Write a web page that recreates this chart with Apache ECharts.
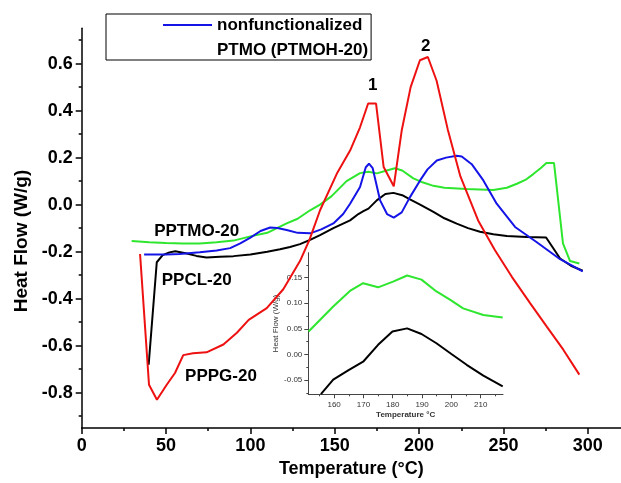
<!DOCTYPE html>
<html><head><meta charset="utf-8">
<script src="https://cdn.jsdelivr.net/npm/echarts@6/dist/echarts.min.js"></script>
<style>html,body{margin:0;padding:0;background:#fff}#c{width:621px;height:483px}</style>
</head><body><div id="c"></div>
<script>
// ---- data (temperature °C, heat flow W/g) ----
const pppgT = [34.6,39.9,44.6,50.4,55.3,60.2,66,74,84,92,99,109.7,119.5,129.4,135,141.3,151.2,159.1,165,169.8,174.5,179,185,189.7,195,200.5,205.2,210.4,217,224.5,235,245,255,265.8,275.7,285.5,295];
const pppgV = [-0.21,-0.766,-0.83,-0.766,-0.716,-0.64,-0.632,-0.628,-0.595,-0.545,-0.49,-0.44,-0.36,-0.24,-0.15,-0.024,0.131,0.23,0.329,0.43,0.43,0.16,0.078,0.315,0.5,0.614,0.628,0.527,0.32,0.12,-0.067,-0.194,-0.307,-0.419,-0.519,-0.617,-0.723];

const nonfT = [37,50,58,70,80,88,94,100,106,111.7,116,121.5,128,135.4,142,149.2,155,159.1,165,168.4,170.3,172.5,176.9,181,185,189.7,194.6,200.6,205,210.5,216,222.3,225.3,231.2,238.1,246,256.9,269.8,283.6,297];
const nonfV = [-0.212,-0.212,-0.21,-0.203,-0.195,-0.185,-0.165,-0.14,-0.112,-0.097,-0.099,-0.108,-0.12,-0.122,-0.105,-0.08,-0.04,0.004,0.075,0.159,0.174,0.155,0.018,-0.04,-0.055,-0.033,0.032,0.103,0.15,0.188,0.2,0.208,0.205,0.172,0.103,0.004,-0.095,-0.16,-0.232,-0.284];

const pptmoT = [29.6,40,50,60,70,80,90,100,110,121.5,128,135.4,141.3,148,157,165,170,175,180.8,185.7,190,196.6,202,208.5,215,228,244,252,258,263,267.7,272,275.5,280,285.3,289.5,295];
const pptmoV = [-0.155,-0.16,-0.163,-0.165,-0.165,-0.16,-0.153,-0.135,-0.12,-0.08,-0.06,-0.024,0.0,0.035,0.1,0.134,0.14,0.133,0.145,0.155,0.145,0.112,0.095,0.08,0.072,0.066,0.062,0.072,0.089,0.105,0.13,0.155,0.177,0.177,-0.165,-0.24,-0.25];

const ppclT = [39.7,44.5,48,52,55.5,62.3,68,74,82,90,100,110,117.6,123.5,129.4,135.4,141.3,149.2,159.1,164,167,170,174.9,180,184.8,190,194.6,200.6,208.5,215,222.3,229,236.1,244,252,263.8,275.3,283.6,290,297];
const ppclV = [-0.681,-0.245,-0.215,-0.203,-0.198,-0.208,-0.218,-0.225,-0.222,-0.219,-0.212,-0.2,-0.19,-0.18,-0.168,-0.15,-0.13,-0.1,-0.067,-0.04,-0.028,-0.017,0.018,0.045,0.05,0.04,0.022,0.0,-0.031,-0.058,-0.081,-0.1,-0.115,-0.126,-0.133,-0.138,-0.14,-0.229,-0.26,-0.281];

// inset data
const insetGreenT = [151.3,159.7,165.4,169.9,175,180.1,184.9,189.8,194.9,199.5,204,210.9,217.5];
const insetGreenV = [0.045,0.0935,0.124,0.139,0.131,0.142,0.154,0.146,0.123,0.107,0.09,0.077,0.072];
const insetBlackT = [155.5,159.7,164.8,169.9,175,179.9,184.9,189.8,194.9,200,205.2,210.9,217.5];
const insetBlackV = [-0.077,-0.049,-0.031,-0.014,0.019,0.045,0.051,0.04,0.022,0.001,-0.02,-0.041,-0.062];

// tick labels
const xTicks = [0,50,100,150,200,250,300];
const xMinor = [25,75,125,175,225,275];
const yTicks = [-0.8,-0.6,-0.4,-0.2,0.0,0.2,0.4,0.6];
const yMinor = [-0.9,-0.7,-0.5,-0.3,-0.1,0.1,0.3,0.5,0.7];
const ixTicks = [160,170,180,190,200,210];
const ixMinor = [155,165,175,185,195,205,215];
const iyTicks = [-0.05,0.0,0.05,0.10,0.15];
const iyMinor = [-0.075,-0.025,0.025,0.075,0.125,0.175];

const zip = (a,b) => a.map((v,i)=>[v,b[i]]);
const FF = "'Liberation Sans', Arial, sans-serif";
const RED='#ee1111', BLUE='#1414e6', GREEN='#2ee62e', BLACK='#000000';

function mainX(extra){return Object.assign({type:'value',gridIndex:0,position:'bottom',min:0,max:319.7,splitLine:{show:false},
  axisLine:{show:true,onZero:false,lineStyle:{color:'#000',width:1.5}}},extra);}
function mainY(extra){return Object.assign({type:'value',gridIndex:0,position:'left',min:-0.95,max:0.75,splitLine:{show:false},
  axisLine:{show:true,onZero:false,lineStyle:{color:'#000',width:1.5}}},extra);}
function insX(extra){return Object.assign({type:'value',gridIndex:1,position:'bottom',min:151.2,max:217.6,splitLine:{show:false},
  axisLine:{show:true,onZero:false,lineStyle:{color:'#444',width:1}}},extra);}
function insY(extra){return Object.assign({type:'value',gridIndex:1,position:'left',min:-0.0775,max:0.1985,splitLine:{show:false},
  axisLine:{show:true,onZero:false,lineStyle:{color:'#444',width:1}}},extra);}
const hiddenLine = {show:false,onZero:false};

const chart = echarts.init(document.getElementById('c'),null,{renderer:'canvas'});
chart.setOption({
  animation:false,
  backgroundColor:'#fff',
  grid:[
    {left:81.7,top:28.3,right:0,bottom:54,containLabel:false},
    {left:308.3,top:252.7,width:194.7,height:141.6,containLabel:false}
  ],
  legend:{
    left:106, top:14, orient:'vertical', padding:[1,3,0,57], itemGap:5,
    itemWidth:49, itemHeight:14, borderColor:'#000', borderWidth:1, selectedMode:false,
    textStyle:{fontSize:17,fontWeight:'bold',fontFamily:FF,color:'#000',lineHeight:20},
    data:[{name:'nonfunctionalized',icon:'path://M0,0L48,0L48,2L0,2Z',itemStyle:{color:BLUE}},
          {name:'PTMO (PTMOH-20)',icon:'none'}]
  },
  xAxis:[
    mainX({name:'Temperature (°C)',nameLocation:'middle',nameGap:32,
      nameTextStyle:{fontSize:18,fontWeight:'bold',fontFamily:FF,color:'#000'},
      axisTick:{show:true,length:6,customValues:xTicks,lineStyle:{color:'#000',width:1.5}},
      axisLabel:{show:true,customValues:xTicks,margin:9,fontSize:18,fontWeight:'bold',fontFamily:FF,color:'#000'}}),
    mainX({axisLine:hiddenLine,axisLabel:{show:false},
      axisTick:{show:true,length:3,customValues:xMinor,lineStyle:{color:'#000',width:1.5}}}),
    insX({axisTick:{show:true,length:4,customValues:ixTicks,lineStyle:{color:'#444'}},
      axisLabel:{show:true,customValues:ixTicks,margin:6,fontSize:8,fontFamily:FF,color:'#333'},
      name:'Temperature °C',nameLocation:'middle',nameGap:16,
      nameTextStyle:{fontSize:8,fontWeight:'bold',fontFamily:FF,color:'#333'}}),
    insX({axisLine:hiddenLine,axisLabel:{show:false},
      axisTick:{show:true,length:2,customValues:ixMinor,lineStyle:{color:'#444'}}})
  ],
  yAxis:[
    mainY({axisTick:{show:true,length:6,customValues:yTicks,lineStyle:{color:'#000',width:1.5}},
      axisLabel:{show:true,customValues:yTicks,margin:9,fontSize:18,fontWeight:'bold',fontFamily:FF,color:'#000',
        formatter:v=>v.toFixed(1)}}),
    mainY({axisLine:hiddenLine,axisLabel:{show:false},
      axisTick:{show:true,length:3,customValues:yMinor,lineStyle:{color:'#000',width:1.5}}}),
    insY({axisTick:{show:true,length:4,customValues:iyTicks,lineStyle:{color:'#444'}},
      axisLabel:{show:true,customValues:iyTicks,margin:6,fontSize:8,fontFamily:FF,color:'#333',
        formatter:v=>v.toFixed(2)},
      name:'Heat Flow (W/g)',nameLocation:'middle',nameGap:26,
      nameTextStyle:{fontSize:8,fontFamily:FF,color:'#333'}}),
    insY({axisLine:hiddenLine,axisLabel:{show:false},
      axisTick:{show:true,length:2,customValues:iyMinor,lineStyle:{color:'#444'}}})
  ],
  series:[
    {name:'PPTMO-20',type:'line',xAxisIndex:0,yAxisIndex:0,symbol:'none',data:zip(pptmoT,pptmoV),lineStyle:{color:GREEN,width:2},itemStyle:{color:GREEN}},
    {name:'PPCL-20',type:'line',xAxisIndex:0,yAxisIndex:0,symbol:'none',data:zip(ppclT,ppclV),lineStyle:{color:BLACK,width:2},itemStyle:{color:BLACK}},
    {name:'nonfunctionalized',type:'line',xAxisIndex:0,yAxisIndex:0,symbol:'none',data:zip(nonfT,nonfV),lineStyle:{color:BLUE,width:2},itemStyle:{color:BLUE}},
    {name:'PTMO (PTMOH-20)',type:'line',xAxisIndex:0,yAxisIndex:0,symbol:'none',data:[]},
    {name:'PPPG-20',type:'line',xAxisIndex:0,yAxisIndex:0,symbol:'none',data:zip(pppgT,pppgV),lineStyle:{color:RED,width:2},itemStyle:{color:RED}},
    {name:'PPTMO-20 inset',type:'line',xAxisIndex:2,yAxisIndex:2,symbol:'none',clip:true,data:zip(insetGreenT,insetGreenV),lineStyle:{color:GREEN,width:2}},
    {name:'PPCL-20 inset',type:'line',xAxisIndex:2,yAxisIndex:2,symbol:'none',clip:true,data:zip(insetBlackT,insetBlackV),lineStyle:{color:BLACK,width:2}}
  ],
  graphic:[
    {type:'text',x:22,y:241,rotation:Math.PI/2,style:{text:'Heat Flow (W/g)',font:'bold 19px '+FF,fill:'#000',align:'center',verticalAlign:'middle'}},
    {type:'text',x:196.7,y:231.7,style:{text:'PPTMO-20',font:'bold 17px '+FF,fill:'#000',align:'center',verticalAlign:'middle'}},
    {type:'text',x:196.7,y:280,style:{text:'PPCL-20',font:'bold 17px '+FF,fill:'#000',align:'center',verticalAlign:'middle'}},
    {type:'text',x:221,y:376,style:{text:'PPPG-20',font:'bold 17px '+FF,fill:'#000',align:'center',verticalAlign:'middle'}},
    {type:'text',x:372.7,y:85,style:{text:'1',font:'bold 17px '+FF,fill:'#000',align:'center',verticalAlign:'middle'}},
    {type:'text',x:425.8,y:46.7,style:{text:'2',font:'bold 17px '+FF,fill:'#000',align:'center',verticalAlign:'middle'}}
  ]
});
</script></body></html>
